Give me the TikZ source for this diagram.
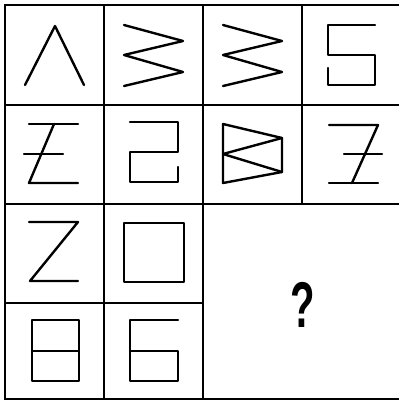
\documentclass[tikz,border=0pt]{standalone}
\usepackage{fontspec}
\setmainfont{Liberation Sans}
\begin{document}
\begin{tikzpicture}[x=0.025cm, y=-0.025cm, line join=round]
  \tikzset{gridline/.style={line width=2.1pt, line cap=rect},
    stroke/.style={line width=1.7pt, line cap=round}}
  \useasboundingbox (0,0) rectangle (399,402);
  % 网格
  \foreach \y in {5,105,204,399}
    \draw[gridline] (5,\y) -- (401,\y);
  \draw[gridline] (5,303) -- (203,303);
  \foreach \x in {5,104,203}
    \draw[gridline] (\x,5) -- (\x,399);
  \draw[gridline] (302,5) -- (302,204);
  % 第一行
  \draw[stroke] (25,85) -- (55,26) -- (84,85);
  \draw[stroke] (124,25) -- (183,41) -- (124,55) -- (183,72) -- (124,86);
  \draw[stroke] (223,25) -- (282,41) -- (223,55) -- (282,72) -- (223,86);
  \draw[stroke] (375,25) -- (328,25) -- (328,55) -- (375,55) -- (375,85) -- (328,85) -- (328,68);
  % 第二行
  \draw[stroke] (29,124) -- (78,124);
  \draw[stroke] (24,154) -- (63,154);
  \draw[stroke] (54,124) -- (29,183) -- (78,183);
  \draw[stroke] (130,122) -- (178,122) -- (178,152) -- (130,152) -- (130,182) -- (178,182) -- (178,167);
  \draw[stroke] (223,124) -- (282,138) -- (282,172) -- (223,183) -- cycle;
  \draw[stroke] (282,138) -- (223,154) -- (282,172);
  \draw[stroke] (329,125) -- (378,125) -- (352,183);
  \draw[stroke] (344,154) -- (382,154);
  \draw[stroke] (329,183) -- (378,183);
  % 第三、四行
  \draw[stroke] (29,222) -- (78,222) -- (30,281) -- (78,281);
  \draw[stroke] (124,223) rectangle (184,282);
  \draw[stroke] (32,320) rectangle (79,381);
  \draw[stroke] (32,351) -- (79,351);
  \draw[stroke] (178,320) -- (130,320) -- (130,381) -- (178,381) -- (178,351) -- (130,351);
  % 问号
  \node[font=\fontsize{46}{46}\selectfont\bfseries, xscale=0.62, inner sep=0pt] (ask) at (303,305) {?};
\end{tikzpicture}
\end{document}
